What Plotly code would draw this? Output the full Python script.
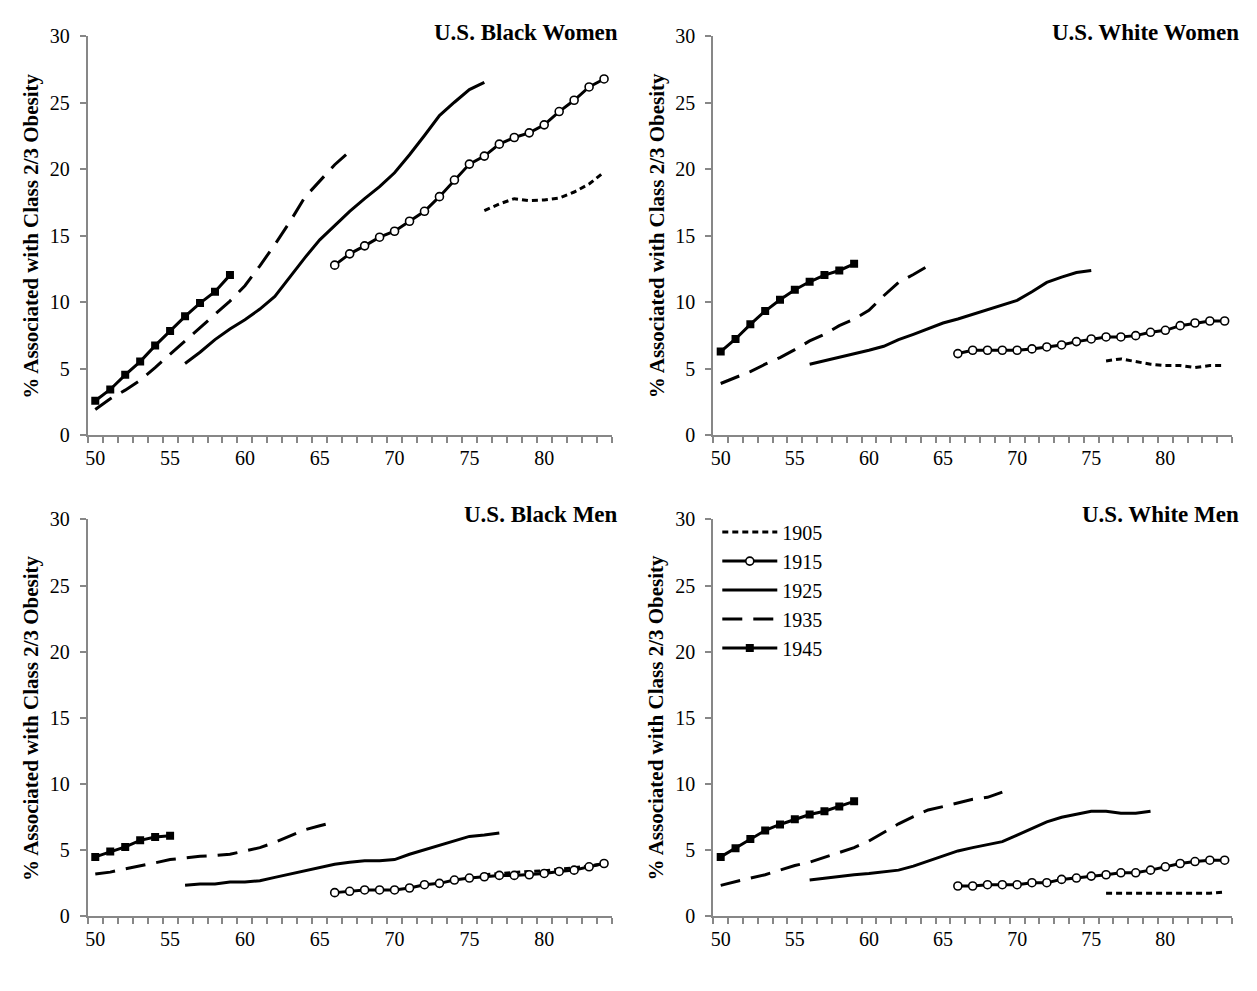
import plotly.graph_objects as go

# ---------------- data ----------------
ages_1905 = list(range(76, 85))
ages_1915 = list(range(66, 85))

# U.S. Black Women
bw_1905 = [16.9, 17.4, 17.8, 17.65, 17.7, 17.85, 18.3, 18.9, 19.8]
bw_1915 = [12.8, 13.65, 14.25, 14.9, 15.35, 16.1, 16.85, 17.95, 19.2, 20.4, 21.0, 21.9, 22.4, 22.75, 23.35, 24.35, 25.2, 26.2, 26.8]
bw_1925_ages = list(range(56, 77))
bw_1925 = [5.4, 6.25, 7.2, 8.0, 8.7, 9.5, 10.45, 11.9, 13.35, 14.7, 15.8, 16.85, 17.8, 18.7, 19.75, 21.1, 22.55, 24.05, 25.05, 26.0, 26.55]
bw_1935_ages = list(range(50, 68))
bw_1935 = [1.95, 2.75, 3.4, 4.15, 5.1, 6.1, 7.1, 8.05, 9.05, 10.1, 11.25, 12.75, 14.35, 16.05, 17.9, 19.1, 20.35, 21.35]
bw_1945_ages = list(range(50, 60))
bw_1945 = [2.6, 3.45, 4.55, 5.55, 6.75, 7.85, 8.95, 9.95, 10.8, 12.05]

# U.S. White Women
ww_1905 = [5.6, 5.75, 5.55, 5.35, 5.25, 5.25, 5.1, 5.25, 5.25]
ww_1915 = [6.15, 6.4, 6.4, 6.4, 6.4, 6.5, 6.65, 6.8, 7.05, 7.25, 7.4, 7.4, 7.5, 7.75, 7.9, 8.25, 8.45, 8.6, 8.6]
ww_1925_ages = list(range(56, 76))
ww_1925 = [5.35, 5.6, 5.85, 6.15, 6.4, 6.7, 7.2, 7.6, 8.0, 8.45, 8.75, 9.1, 9.45, 9.8, 10.15, 10.8, 11.5, 11.9, 12.25, 12.4]
ww_1935_ages = list(range(50, 65))
ww_1935 = [3.9, 4.35, 4.8, 5.35, 5.85, 6.45, 7.1, 7.6, 8.25, 8.75, 9.4, 10.5, 11.5, 12.1, 12.75]
ww_1945_ages = list(range(50, 60))
ww_1945 = [6.3, 7.25, 8.35, 9.35, 10.2, 10.95, 11.55, 12.05, 12.4, 12.9]

# U.S. Black Men
bm_1905 = [3.15, 3.25, 3.35, 3.4, 3.45, 3.55, 3.7, 3.8, 4.0]
bm_1915 = [1.8, 1.9, 2.0, 2.0, 2.0, 2.15, 2.4, 2.5, 2.75, 2.9, 3.0, 3.1, 3.1, 3.15, 3.25, 3.4, 3.5, 3.75, 4.0]
bm_1925_ages = list(range(56, 78))
bm_1925 = [2.35, 2.45, 2.45, 2.6, 2.6, 2.7, 2.95, 3.2, 3.45, 3.7, 3.95, 4.1, 4.2, 4.2, 4.3, 4.7, 5.05, 5.35, 5.7, 6.05, 6.15, 6.3]
bm_1935_ages = list(range(50, 67))
bm_1935 = [3.2, 3.35, 3.6, 3.8, 4.05, 4.3, 4.45, 4.55, 4.6, 4.7, 4.95, 5.2, 5.6, 6.1, 6.55, 6.85, 7.15]
bm_1945_ages = list(range(50, 56))
bm_1945 = [4.5, 4.9, 5.25, 5.75, 6.0, 6.1]

# U.S. White Men
wm_1905 = [1.75, 1.75, 1.75, 1.75, 1.75, 1.75, 1.75, 1.75, 1.85]
wm_1915 = [2.3, 2.3, 2.4, 2.4, 2.4, 2.55, 2.55, 2.8, 2.9, 3.05, 3.15, 3.3, 3.3, 3.5, 3.75, 4.0, 4.15, 4.25, 4.25]
wm_1925_ages = list(range(56, 80))
wm_1925 = [2.75, 2.9, 3.05, 3.15, 3.25, 3.4, 3.5, 3.8, 4.2, 4.55, 4.95, 5.2, 5.45, 5.65, 6.15, 6.65, 7.15, 7.5, 7.7, 7.95, 7.95, 7.8, 7.8, 7.95]
wm_1935_ages = list(range(50, 70))
wm_1935 = [2.35, 2.65, 2.9, 3.15, 3.5, 3.85, 4.1, 4.45, 4.8, 5.2, 5.7, 6.35, 7.0, 7.55, 8.05, 8.3, 8.55, 8.85, 9.0, 9.4]
wm_1945_ages = list(range(50, 60))
wm_1945 = [4.5, 5.15, 5.85, 6.5, 6.95, 7.35, 7.7, 7.95, 8.3, 8.7]

cohorts = ["1905", "1915", "1925", "1935", "1945"]
panel_titles = ["U.S. Black Women", "U.S. White Women", "U.S. Black Men", "U.S. White Men"]
y_title = "% Associated with Class 2/3 Obesity"
x_tickvals = [50, 55, 60, 65, 70, 75, 80]
y_tickvals = [0, 5, 10, 15, 20, 25, 30]

panels = [
    {"1905": (ages_1905, bw_1905), "1915": (ages_1915, bw_1915), "1925": (bw_1925_ages, bw_1925),
     "1935": (bw_1935_ages, bw_1935), "1945": (bw_1945_ages, bw_1945)},
    {"1905": (ages_1905, ww_1905), "1915": (ages_1915, ww_1915), "1925": (ww_1925_ages, ww_1925),
     "1935": (ww_1935_ages, ww_1935), "1945": (ww_1945_ages, ww_1945)},
    {"1905": (ages_1905, bm_1905), "1915": (ages_1915, bm_1915), "1925": (bm_1925_ages, bm_1925),
     "1935": (bm_1935_ages, bm_1935), "1945": (bm_1945_ages, bm_1945)},
    {"1905": (ages_1905, wm_1905), "1915": (ages_1915, wm_1915), "1925": (wm_1925_ages, wm_1925),
     "1935": (wm_1935_ages, wm_1935), "1945": (wm_1945_ages, wm_1945)},
]

# ---------------- styling ----------------
W, H = 1257, 991
FONT = "Liberation Serif, Times New Roman, serif"
AXIS_COLOR = "#878787"

styles = {
    "1905": dict(mode="lines", line=dict(color="black", width=3, dash="6px,4px")),
    "1915": dict(mode="lines+markers", line=dict(color="black", width=3),
                 marker=dict(symbol="circle", size=8, color="white", line=dict(color="black", width=1.6))),
    "1925": dict(mode="lines", line=dict(color="black", width=3)),
    "1935": dict(mode="lines", line=dict(color="black", width=3, dash="20px,11px")),
    "1945": dict(mode="lines+markers", line=dict(color="black", width=3),
                 marker=dict(symbol="square", size=8, color="black")),
}

def px_x(p):
    return p / W

def px_y(p):
    return (H - p) / H

x_domains = [(85, 610), (712, 1232)]
y_domains = [(26, 434), (520, 926)]

fig = go.Figure()
layout_axes = {}
annotations = []
for i, panel in enumerate(panels):
    col = i % 2
    row = i // 2
    n = i + 1
    xa = "x" if n == 1 else f"x{n}"
    ya = "y" if n == 1 else f"y{n}"
    for c in cohorts:
        xs, ys = panel[c]
        fig.add_trace(go.Scatter(x=xs, y=ys, name=c, xaxis=xa, yaxis=ya,
                                 showlegend=(n == 4), legendrank=int(c),
                                 **styles[c]))
    xd = x_domains[col]
    yd = y_domains[row]
    layout_axes[f"xaxis{'' if n == 1 else n}"] = dict(
        domain=[px_x(xd[0]), px_x(xd[1])], range=[49.5, 84.5], anchor=ya,
        tickmode="array", tickvals=x_tickvals, ticks="", showgrid=False, zeroline=False,
        showline=True, linecolor=AXIS_COLOR, linewidth=2, ticklabelstandoff=4,
        tickfont=dict(family=FONT, size=20, color="black"),
        minor=dict(tickmode="linear", tick0=49.5, dtick=1, ticks="outside", ticklen=6,
                   tickcolor=AXIS_COLOR, tickwidth=1.5, showgrid=False),
        fixedrange=True,
    )
    layout_axes[f"yaxis{'' if n == 1 else n}"] = dict(
        domain=[px_y(yd[1]), px_y(yd[0])], range=[0, 30], anchor=xa,
        tickmode="array", tickvals=y_tickvals, ticks="outside", ticklen=6,
        tickcolor=AXIS_COLOR, tickwidth=1.5, ticklabelstandoff=6,
        showgrid=False, zeroline=False, showline=True, linecolor=AXIS_COLOR, linewidth=2,
        tickfont=dict(family=FONT, size=20, color="black"),
        fixedrange=True,
    )
    # panel title
    title_right = [618, 1241][col]
    title_y = [22, 515][row]
    annotations.append(dict(text=panel_titles[i], xref="paper", yref="paper",
                            x=px_x(title_right), y=px_y(title_y), xanchor="right", yanchor="middle",
                            showarrow=False, font=dict(family=FONT, size=23, color="black", weight="bold")))
    # y-axis title
    ytx = [28, 655][col]
    yty = (yd[0] + yd[1]) / 2
    annotations.append(dict(text=y_title, xref="paper", yref="paper",
                            x=px_x(ytx), y=px_y(yty), xanchor="center", yanchor="middle",
                            textangle=-90, showarrow=False,
                            font=dict(family=FONT, size=21, color="black", weight="bold")))

fig.update_layout(
    width=W, height=H,
    margin=dict(l=0, r=0, t=0, b=0),
    paper_bgcolor="white", plot_bgcolor="white",
    font=dict(family=FONT, size=20, color="black"),
    annotations=annotations,
    legend=dict(x=px_x(716), y=px_y(513), xanchor="left", yanchor="top",
                font=dict(family=FONT, size=20, color="black"),
                bgcolor="rgba(0,0,0,0)", itemwidth=55, tracegroupgap=0,
                traceorder="normal"),
    **layout_axes,
)

fig.write_html("out.html")
